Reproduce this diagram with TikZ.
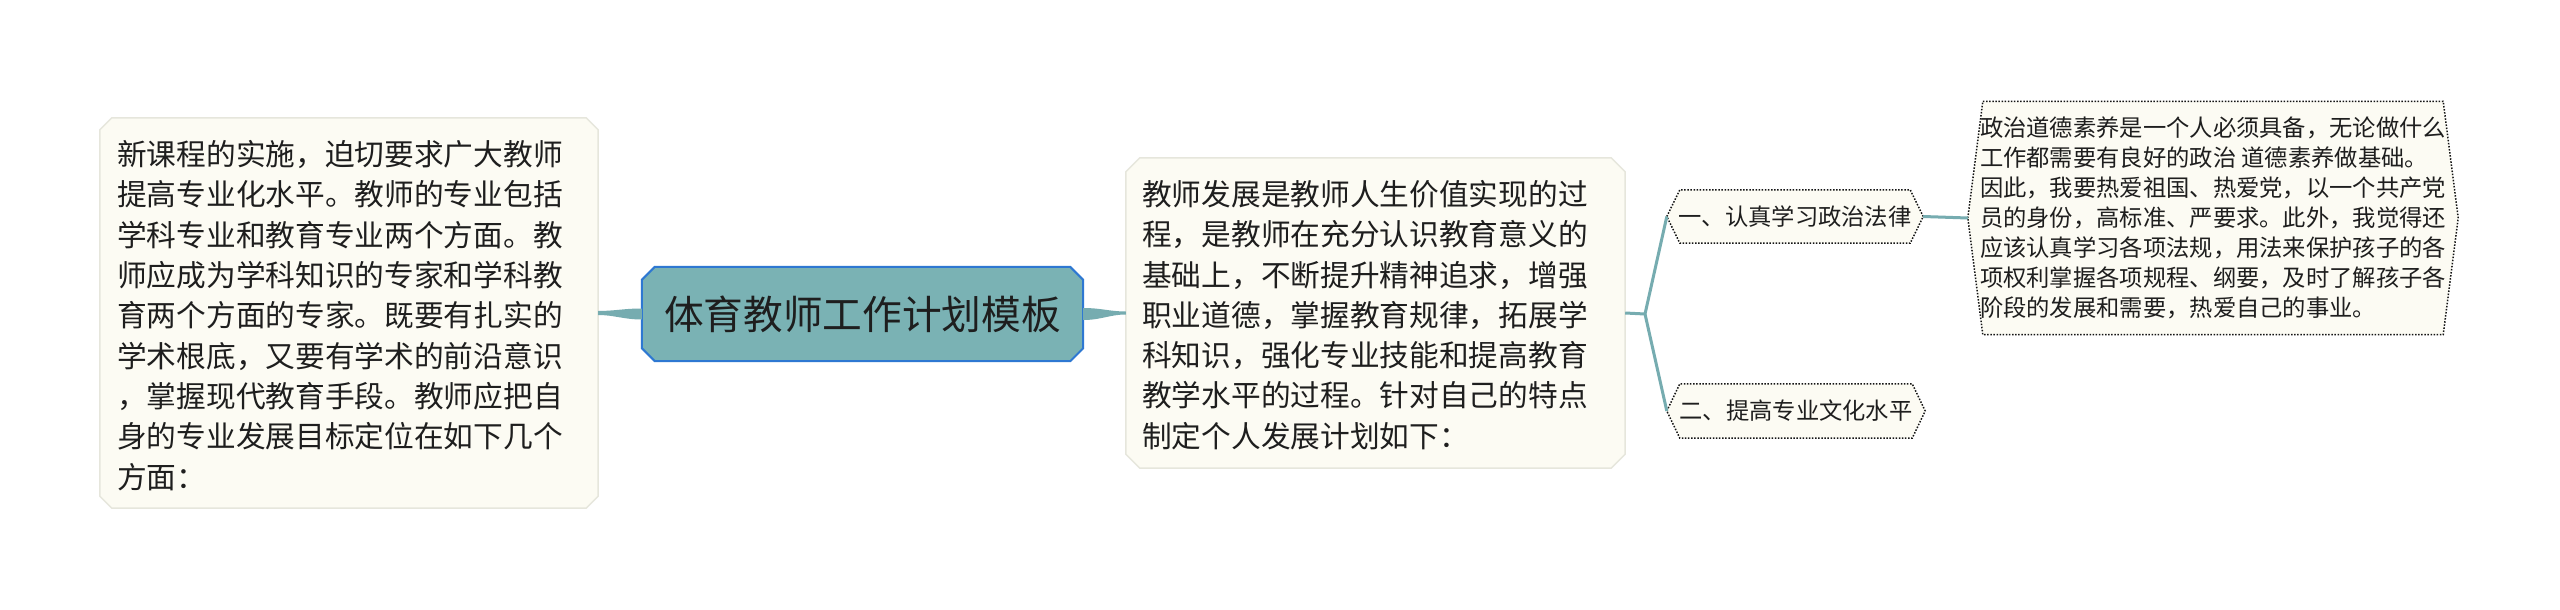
\documentclass[tikz,border=0pt]{standalone}
\usepackage{fontspec}
\newfontfamily\cjk{Noto Sans CJK SC}
\usetikzlibrary{calc}
\definecolor{cardfill}{RGB}{252,251,243}
\definecolor{cardedge}{RGB}{230,230,220}
\definecolor{rootfill}{RGB}{122,178,180}
\definecolor{rootedge}{RGB}{46,120,210}
\definecolor{conn}{RGB}{118,172,176}
\definecolor{ink}{RGB}{30,30,30}
\definecolor{dotcol}{RGB}{20,20,20}
\pgfdeclarelayer{bg}
\pgfsetlayers{bg,main}
\newcommand\chambox[3]{%
  \path[#3] ([xshift=#2]#1.north west) -- ([xshift=-#2]#1.north east) -- ([yshift=-#2]#1.north east) -- ([yshift=#2]#1.south east) -- ([xshift=-#2]#1.south east) -- ([xshift=#2]#1.south west) -- ([yshift=#2]#1.south west) -- ([yshift=-#2]#1.north west) -- cycle;}
\newcommand\hexbox[3]{%
  \path[#3] (#1.west) -- ([xshift=#2]#1.north west) -- ([xshift=-#2]#1.north east) -- (#1.east) -- ([xshift=-#2]#1.south east) -- ([xshift=#2]#1.south west) -- cycle;}
\begin{document}
\begin{tikzpicture}[x=1pt,y=-1pt,
  frame/.style={rectangle, inner sep=0, draw=none},
  cardline/.style={fill=cardfill, draw=cardedge, line width=1.5pt},
  rootline/.style={fill=rootfill, draw=rootedge, line width=2pt},
  dotline/.style={fill=cardfill, draw=dotcol, dash pattern=on 1.5pt off 1.6pt, line width=1.5pt},
  branch/.style={draw=conn, line width=3pt, line join=round},
  bigtext/.style={font=\cjk\fontsize{29.7}{40.3}\selectfont, text=ink, align=left, inner sep=0, anchor=west},
  smalltext/.style={font=\cjk\fontsize{23.3}{30}\selectfont, text=ink, align=left, inner sep=0}]
\useasboundingbox (0,0) rectangle (2560,610);
% frames
\node[frame, minimum width=498pt, minimum height=390pt] (lbox) at (349,313) {};
\node[frame, minimum width=441pt, minimum height=94pt] (root) at (862.5,314) {};
\node[frame, minimum width=499pt, minimum height=310pt] (mbox) at (1375.5,313) {};
\node[frame, smalltext, minimum width=256pt, minimum height=53pt] (n1) at (1795,216.5) {一、认真学习政治法律};
\node[frame, smalltext, minimum width=258pt, minimum height=54pt] (n2) at (1796,411) {二、提高专业文化水平};
\node[frame, smalltext, minimum width=490pt, minimum height=233pt] (det) at (2213,218) {政治道德素养是一个人必须具备，无论做什么\\%
工作都需要有良好的政治 道德素养做基础。\\%
因此，我要热爱祖国、热爱党，以一个共产党\\%
员的身份，高标准、严要求。此外，我觉得还\\%
应该认真学习各项法规，用法来保护孩子的各\\%
项权利掌握各项规程、纲要，及时了解孩子各\\%
阶段的发展和需要，热爱自己的事业。};
\begin{pgfonlayer}{bg}
\fill[white] (0,0) rectangle (2560,610);
\chambox{lbox}{12pt}{cardline}
\chambox{mbox}{14pt}{cardline}
\chambox{root}{13pt}{rootline}
\hexbox{n1}{13pt}{dotline}
\hexbox{n2}{13pt}{dotline}
\hexbox{det}{15pt}{dotline}
% tapered connectors
\fill[conn] ([yshift=5.5pt]root.west) .. controls +(-18,0) and +(16,0) .. ([yshift=2pt]lbox.east) -- ([yshift=-2pt]lbox.east) .. controls +(16,0) and +(-18,0) .. ([yshift=-5.5pt]root.west) -- cycle;
\fill[conn] ([yshift=6pt]root.east) .. controls +(18,0) and +(-16,0) .. ([yshift=1.5pt]mbox.west) -- ([yshift=-1.5pt]mbox.west) .. controls +(-16,0) and +(18,0) .. ([yshift=-6pt]root.east) -- cycle;
\coordinate (fork) at (1645,314);
\draw[branch] (mbox.east) -- (fork) -- (n1.west);
\draw[branch] (fork) -- (n2.west);
\draw[branch] (n1.east) -- (det.west);
\end{pgfonlayer}
% texts
\node[font=\cjk\fontsize{39.7}{44}\selectfont, text=ink, inner sep=0] (roottxt) at (root.center) {体育教师工作计划模板};
\node[bigtext] (ltxt) at (117,315.5) {新课程的实施，迫切要求广大教师\\%
提高专业化水平。教师的专业包括\\%
学科专业和教育专业两个方面。教\\%
师应成为学科知识的专家和学科教\\%
育两个方面的专家。既要有扎实的\\%
学术根底，又要有学术的前沿意识\\%
，掌握现代教育手段。教师应把自\\%
身的专业发展目标定位在如下几个\\%
方面：};
\node[bigtext] (mtxt) at (1142,315) {教师发展是教师人生价值实现的过\\%
程，是教师在充分认识教育意义的\\%
基础上，不断提升精神追求，增强\\%
职业道德，掌握教育规律，拓展学\\%
科知识，强化专业技能和提高教育\\%
教学水平的过程。针对自己的特点\\%
制定个人发展计划如下：};
\end{tikzpicture}
\end{document}
